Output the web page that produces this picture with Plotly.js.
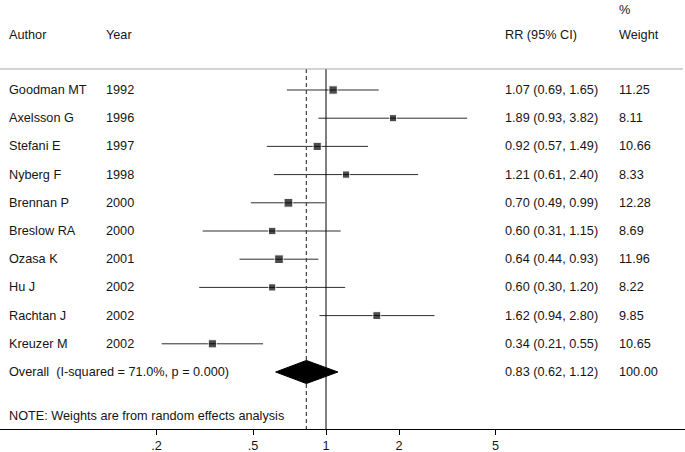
<!DOCTYPE html>
<html>
<head>
<meta charset="utf-8">
<script src="https://cdn.plot.ly/plotly-3.0.1.min.js"></script>
<style>
    body { margin: 0; background: #fff; }
    #forestPlotDiv { width: 685px; height: 452px; }
</style>
</head>
<body>
<div id="forestPlotDiv"></div>
<script>
const forestPlotDivId = "forestPlotDiv"

// study data
const authors = ["Goodman MT", "Axelsson G", "Stefani E", "Nyberg F", "Brennan P",
    "Breslow RA", "Ozasa K", "Hu J", "Rachtan J", "Kreuzer M"]
const years = ["1992", "1996", "1997", "1998", "2000", "2000", "2001", "2002", "2002", "2002"]
const rr = [1.07, 1.89, 0.92, 1.21, 0.70, 0.60, 0.64, 0.60, 1.62, 0.34]
const lower = [0.69, 0.93, 0.57, 0.61, 0.49, 0.31, 0.44, 0.30, 0.94, 0.21]
const upper = [1.65, 3.82, 1.49, 2.40, 0.99, 1.15, 0.93, 1.20, 2.80, 0.55]
const weights = ["11.25", "8.11", "10.66", "8.33", "12.28", "8.69", "11.96", "8.22", "9.85", "10.65"]

const overallLabel = "Overall  (I-squared = 71.0%, p = 0.000)"
const overallRR = 0.83
const overallLower = 0.62
const overallUpper = 1.12
const overallWeight = "100.00"
const noteText = "NOTE: Weights are from random effects analysis"

const tickVals = [0.2, 0.5, 1, 2, 5]
const tickText = [".2", ".5", "1", "2", "5"]

function fmt(v) {
    return v.toFixed(2)
}

function makeForest() {
    // rows: studies at 1..10, overall at 11
    let rowY = authors.map((a, i) => i + 1)
    let overallY = authors.length + 1
    let noteY = 12.56
    let sepY = 0.255
    let yTop = -2.191
    let yBottom = 13.021

    let ciX = []
    let ciY = []
    for (let i = 0; i < rr.length; i++) {
        ciX.push(lower[i], upper[i], null)
        ciY.push(rowY[i], rowY[i], null)
    }

    let ciLines = {
        type: 'scatter',
        x: ciX,
        y: ciY,
        mode: 'lines',
        line: {color: '#2e2e2e', width: 1},
        hoverinfo: 'skip'
    }

    let refLine = {
        type: 'scatter',
        x: [1, 1],
        y: [sepY, yBottom],
        mode: 'lines',
        line: {color: '#000000', width: 1},
        hoverinfo: 'skip'
    }

    let overallLine = {
        type: 'scatter',
        x: [overallRR, overallRR],
        y: [sepY, yBottom],
        mode: 'lines',
        line: {color: '#4a4a4a', width: 1.3, dash: '4px,3px'},
        hoverinfo: 'skip'
    }

    let points = {
        type: 'scatter',
        x: rr,
        y: rowY,
        mode: 'markers',
        marker: {
            symbol: 'square',
            color: '#000000',
            size: weights.map(w => 2.5 * Math.sqrt(parseFloat(w)))
        }
    }

    let half = 0.41
    let diamond = {
        type: 'scatter',
        x: [overallLower, overallRR, overallUpper, overallRR, overallLower],
        y: [overallY, overallY - half, overallY, overallY + half, overallY],
        mode: 'lines',
        fill: 'toself',
        fillcolor: '#000000',
        line: {color: '#000000', width: 1},
        hoverinfo: 'skip'
    }

    let textFont = {family: 'Liberation Sans, Arial, sans-serif', size: 12.7, color: '#151515'}
    let colAuthor = 7 / 685
    let colYear = 104 / 685
    let colRR = 503 / 685
    let colWeight = 617 / 685

    let annotations = []
    function addText(txt, xp, y) {
        annotations.push({
            text: txt, x: xp, y: y, xref: 'paper', yref: 'y',
            xanchor: 'left', yanchor: 'middle', showarrow: false, font: textFont
        })
    }

    // headers
    addText("Author", colAuthor, -0.95)
    addText("Year", colYear, -0.95)
    addText("RR (95% CI)", colRR, -0.95)
    addText("%", colWeight, -1.84)
    addText("Weight", colWeight, -0.95)

    for (let i = 0; i < authors.length; i++) {
        addText(authors[i], colAuthor, rowY[i])
        addText(years[i], colYear, rowY[i])
        addText(fmt(rr[i]) + " (" + fmt(lower[i]) + ", " + fmt(upper[i]) + ")", colRR, rowY[i])
        addText(weights[i], colWeight, rowY[i])
    }
    addText(overallLabel, colAuthor, overallY)
    addText(fmt(overallRR) + " (" + fmt(overallLower) + ", " + fmt(overallUpper) + ")", colRR, overallY)
    addText(overallWeight, colWeight, overallY)
    addText(noteText, colAuthor, noteY)

    let layout = {
        width: 685,
        height: 452,
        margin: {l: 0, r: 0, t: 0, b: 23},
        paper_bgcolor: '#ffffff',
        plot_bgcolor: '#ffffff',
        showlegend: false,
        font: textFont,
        xaxis: {
            type: 'log',
            range: [-1.3443, 1.4804],
            tickmode: 'array',
            tickvals: tickVals,
            ticktext: tickText,
            ticks: 'outside',
            ticklen: 5,
            tickcolor: '#000000',
            showgrid: false,
            zeroline: false,
            showline: true,
            linecolor: '#000000',
            linewidth: 1,
            tickfont: textFont,
            fixedrange: true
        },
        yaxis: {
            range: [yBottom, yTop],
            visible: false,
            showgrid: false,
            zeroline: false,
            fixedrange: true
        },
        shapes: [{
            type: 'line', xref: 'paper', yref: 'y',
            x0: 0, x1: 0.997, y0: sepY, y1: sepY,
            line: {color: '#a6a6a6', width: 1}
        }],
        annotations: annotations
    }

    let config = {staticPlot: true}

    Plotly.newPlot(forestPlotDivId, [ciLines, refLine, overallLine, diamond, points], layout, config)
}

makeForest()
</script>
</body>
</html>
